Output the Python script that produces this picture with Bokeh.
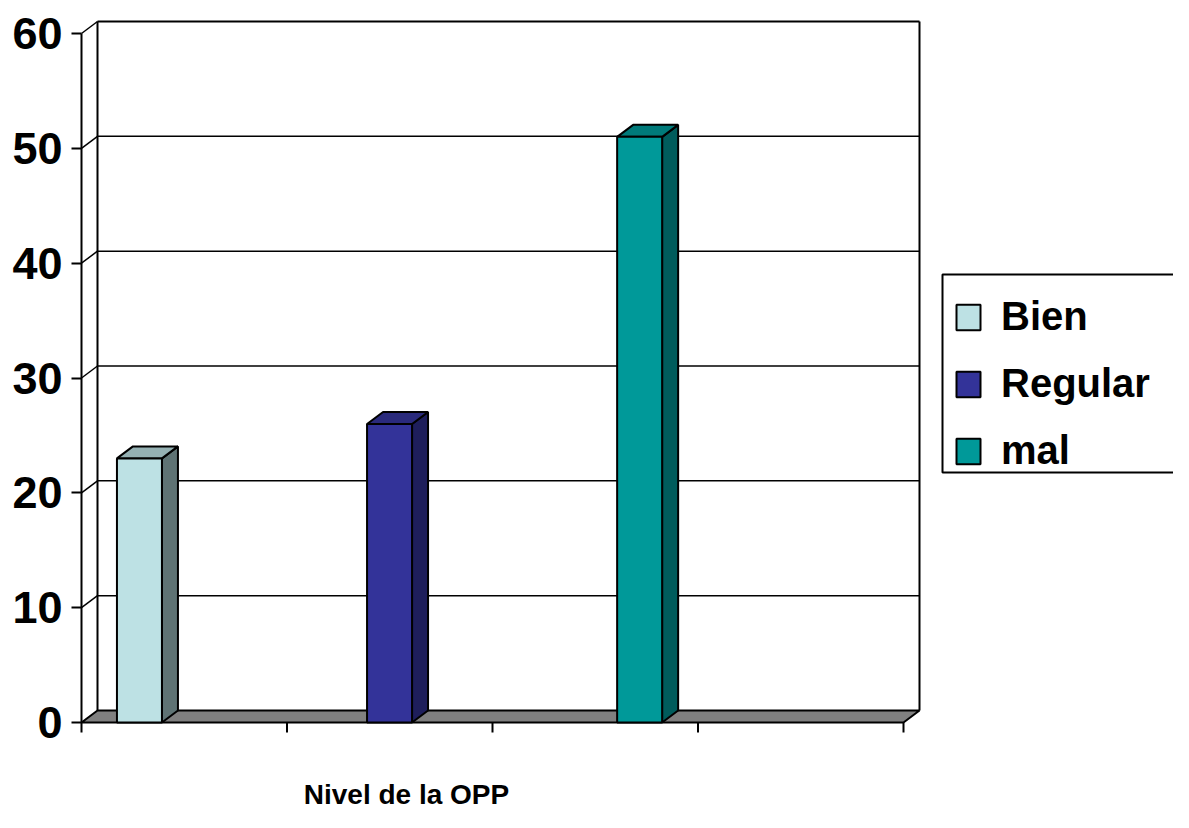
from bokeh.plotting import figure
from bokeh.models import Range1d, FixedTicker, Legend, LegendItem, Label
from bokeh.embed import file_html
from bokeh.resources import INLINE

# ---- data ----
categories = ["Bien", "Regular", "mal"]
values = [23, 26, 51]
y_ticks = [0, 10, 20, 30, 40, 50, 60]
axis_title = "Nivel de la OPP"

front_colors = ["#BDE1E4", "#333399", "#009999"]
side_colors = ["#5F7374", "#1E1E5B", "#005C5C"]
top_colors = ["#95B1B3", "#2A2A7C", "#007A7A"]
floor_color = "#808080"

# ---- layout (pixel scale of the data axes) ----
PX_X = 205.5          # px per x slot
PX_Y = 689.0 / 60.0   # px per value unit
DX = 16 / PX_X        # 3D depth offset
DY = 12 / PX_Y
N_SLOTS = 4
Y_MAX = 60
BAR_W = 45 / PX_X
BAR_X0 = 0.282
BAR_STEP = 1.217
TICK_LEN = 10 / PX_Y

FIG_W, FIG_H = 1173, 812
AXIS_X = 81            # front axis position (px)
ZERO_Y = 722           # y=0 position (px from top)
LEFT_PAD = 5
BORDER_L = AXIS_X - LEFT_PAD
FRAME_W = FIG_W - BORDER_L
BOTTOM_PAD = FIG_H - ZERO_Y

x_start = -LEFT_PAD / PX_X
x_end = (FRAME_W - LEFT_PAD) / PX_X
y_start = -BOTTOM_PAD / PX_Y
y_end = ZERO_Y / PX_Y


def px_x(px):
    return (px - AXIS_X) / PX_X


def px_y(py):
    return (ZERO_Y - py) / PX_Y


p = figure(width=FIG_W, height=FIG_H,
           x_range=Range1d(x_start, x_end), y_range=Range1d(y_start, y_end),
           output_backend="svg", toolbar_location=None, title=None,
           min_border_left=BORDER_L, min_border_right=0,
           min_border_top=0, min_border_bottom=0,
           x_axis_location=None)
p.grid.visible = False
p.outline_line_color = None
p.background_fill_color = "white"
p.border_fill_color = "white"

ya = p.yaxis[0]
ya.ticker = FixedTicker(ticks=y_ticks)
ya.minor_tick_line_color = None
ya.axis_line_color = None
ya.major_tick_out = LEFT_PAD
ya.major_tick_in = 10 - LEFT_PAD
ya.major_tick_line_width = 2
ya.major_tick_line_color = "black"
ya.major_label_standoff = 9
ya.major_label_text_font = "Liberation Sans"
ya.major_label_text_font_style = "bold"
ya.major_label_text_font_size = "45px"
ya.major_label_text_color = "black"

# ---- walls ----
gv = [t for t in y_ticks if 0 < t < Y_MAX]
p.segment(x0=[DX] * len(gv), y0=[t + DY for t in gv],
          x1=[N_SLOTS + DX] * len(gv), y1=[t + DY for t in gv],
          line_color="black", line_width=1.5)
gd = [t for t in y_ticks if t > 0]
p.segment(x0=[0] * len(gd), y0=gd, x1=[DX] * len(gd), y1=[t + DY for t in gd],
          line_color="black", line_width=1.5)
p.segment(x0=[DX, N_SLOTS + DX, DX], y0=[Y_MAX + DY, DY, DY],
          x1=[N_SLOTS + DX, N_SLOTS + DX, DX], y1=[Y_MAX + DY, Y_MAX + DY, Y_MAX + DY],
          line_color="black", line_width=2)

# floor
p.patch(x=[0, N_SLOTS, N_SLOTS + DX, DX], y=[0, 0, DY, DY],
        fill_color=floor_color, line_color="black", line_width=2)

# front axis line and x ticks
p.segment(x0=[0], y0=[-TICK_LEN], x1=[0], y1=[Y_MAX], line_color="black", line_width=2)
xt = list(range(1, N_SLOTS + 1))
p.segment(x0=xt, y0=[0] * len(xt), x1=xt, y1=[-TICK_LEN] * len(xt),
          line_color="black", line_width=2)

# ---- bars ----
items = []
for i, (cat, v) in enumerate(zip(categories, values)):
    c = BAR_X0 + i * BAR_STEP
    l, r = c - BAR_W / 2, c + BAR_W / 2
    p.patch(x=[r, r + DX, r + DX, r], y=[0, DY, v + DY, v],
            fill_color=side_colors[i], line_color="black", line_width=2)
    p.patch(x=[l, r, r + DX, l + DX], y=[v, v, v + DY, v + DY],
            fill_color=top_colors[i], line_color="black", line_width=2)
    q = p.quad(left=l, right=r, bottom=0, top=v,
               fill_color=front_colors[i], line_color="black", line_width=2)
    items.append(LegendItem(label=cat, renderers=[q]))

# legend box (runs past the right edge, as in the original)
p.quad(left=px_x(942), right=x_end + 1, bottom=px_y(472), top=px_y(274),
       fill_color="white", line_color="black", line_width=2)

legend = Legend(items=items, location=(942 - BORDER_L - 2, FIG_H - 486))
legend.label_text_font = "Liberation Sans"
legend.label_text_font_style = "bold"
legend.label_text_font_size = "40px"
legend.label_text_color = "black"
legend.glyph_width = 30
legend.glyph_height = 32
legend.label_height = 32
legend.label_standoff = 18
legend.padding = 13
legend.spacing = 22
legend.margin = 0
legend.border_line_color = "black"
legend.border_line_alpha = 0.0
legend.background_fill_alpha = 0.0
p.add_layout(legend)

p.add_layout(Label(x=px_x(406), y=px_y(794), text=axis_title,
                   text_align="center", text_baseline="middle",
                   text_font="Liberation Sans", text_font_style="bold",
                   text_font_size="28px", text_color="black"))

open("out.html", "w").write(file_html(p, INLINE))
